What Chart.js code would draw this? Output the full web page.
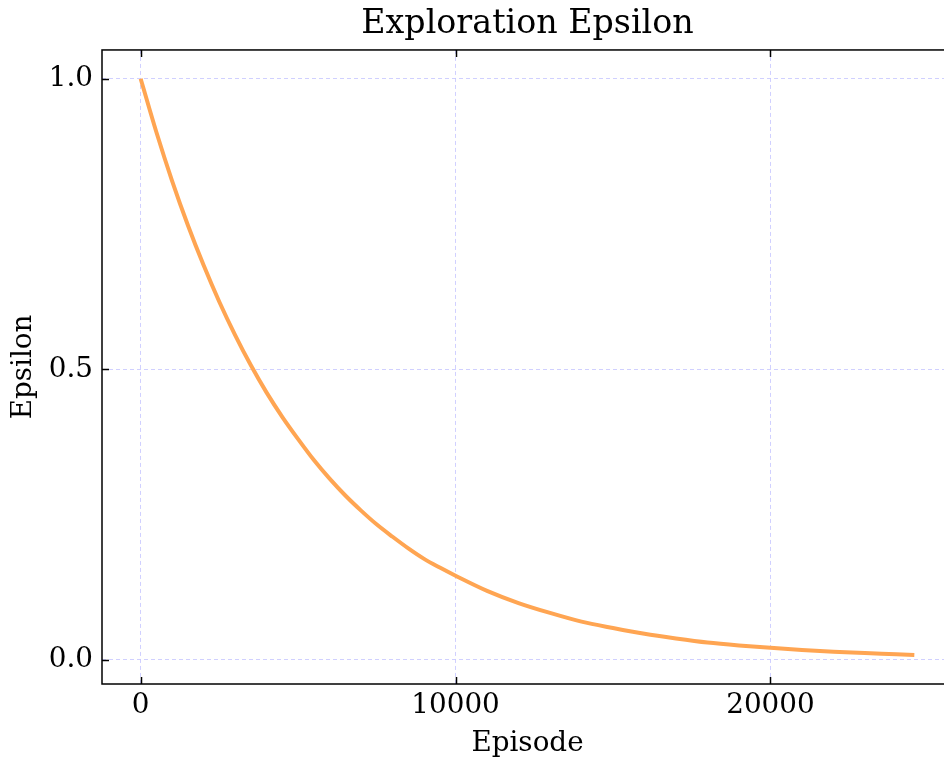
<!DOCTYPE html>
<html>
<head>
<meta charset="utf-8">
<script src="https://cdn.jsdelivr.net/npm/chart.js@4/dist/chart.umd.min.js"></script>
<style>
  html, body { margin: 0; padding: 0; background: #fff; overflow: hidden; }
  #wrap { width: 944px; height: 758px; overflow: hidden; position: relative; }
  #box { width: 953px; height: 758px; position: absolute; left: 0; top: 0; }
</style>
</head>
<body>
<div id="wrap"><div id="box"><canvas id="c"></canvas></div></div>
<script>
// ---- data ----
const episodes = [0, 500, 1000, 1500, 2000, 2500, 3000, 3500, 4000, 4500, 5000,
  5500, 6000, 6500, 7000, 7500, 8000, 8500, 9000, 9500, 10000,
  11000, 12000, 13000, 14000, 15000, 16000, 17000, 18000, 19000, 20000,
  21000, 22000, 23000, 24000, 24570];
const epsilon = [1.000, 0.908, 0.824, 0.748, 0.679, 0.616, 0.559, 0.507, 0.460, 0.418, 0.380,
  0.344, 0.312, 0.283, 0.257, 0.233, 0.212, 0.192, 0.174, 0.159, 0.145,
  0.119, 0.098, 0.081, 0.066, 0.055, 0.045, 0.037, 0.030, 0.025, 0.021,
  0.017, 0.014, 0.012, 0.0097, 0.0085];
const xTickValues = [0, 10000, 20000];
const yTickValues = [0.0, 0.5, 1.0];
const chartTitle = 'Exploration Epsilon';
const xLabel = 'Episode';
const yLabel = 'Epsilon';

const FONT = "'DejaVu Serif', 'Liberation Serif', serif";
const GRID = 'rgba(200,200,255,0.85)';

const points = episodes.map((e, i) => ({ x: e, y: epsilon[i] }));

const frameTicks = {
  id: 'frameTicks',
  afterDraw(chart) {
    const { ctx, chartArea: a, scales } = chart;
    ctx.save();
    ctx.strokeStyle = '#000';
    ctx.lineWidth = 1.5;
    ctx.setLineDash([]);
    ctx.strokeRect(a.left, a.top, a.right - a.left, a.bottom - a.top);
    const L = 7;
    ctx.beginPath();
    xTickValues.forEach(v => {
      const px = Math.round(scales.x.getPixelForValue(v)) + 0.5;
      ctx.moveTo(px, a.bottom); ctx.lineTo(px, a.bottom - L);
      ctx.moveTo(px, a.top); ctx.lineTo(px, a.top + L);
    });
    yTickValues.forEach(v => {
      const py = Math.round(scales.y.getPixelForValue(v)) + 0.5;
      ctx.moveTo(a.left, py); ctx.lineTo(a.left + L, py);
      ctx.moveTo(a.right, py); ctx.lineTo(a.right - L, py);
    });
    ctx.stroke();
    ctx.restore();
  }
};

new Chart(document.getElementById('c'), {
  type: 'line',
  data: {
    datasets: [{
      data: points,
      borderColor: '#FFA552',
      backgroundColor: '#FFA552',
      borderWidth: 4,
      pointRadius: 0,
      fill: false,
      cubicInterpolationMode: 'monotone'
    }]
  },
  options: {
    responsive: true,
    maintainAspectRatio: false,
    animation: false,
    events: [],
    layout: { padding: { left: 0, right: 0, top: 0, bottom: 0 } },
    plugins: {
      legend: { display: false },
      tooltip: { enabled: false },
      title: {
        display: true,
        fullSize: false,
        text: chartTitle,
        color: '#000',
        font: { family: FONT, size: 33.3, weight: 'normal' },
        padding: { top: 4, bottom: 6 }
      }
    },
    scales: {
      x: {
        type: 'linear',
        min: -1228,
        max: 25798,
        afterBuildTicks(s) { s.ticks = xTickValues.map(v => ({ value: v })); },
        afterFit(s) { s.height = 74; },
        ticks: {
          color: '#000',
          font: { family: FONT, size: 27.8 },
          padding: 5,
          maxRotation: 0,
          callback: v => String(v)
        },
        grid: { color: GRID, lineWidth: 1, drawTicks: false },
        border: { display: false, dash: [4, 3] },
        title: {
          display: true, text: xLabel, color: '#000',
          font: { family: FONT, size: 27.8 },
          padding: { top: 0, bottom: -2 }
        }
      },
      y: {
        type: 'linear',
        min: -0.0413,
        max: 1.0496,
        afterBuildTicks(s) { s.ticks = yTickValues.map(v => ({ value: v })); },
        afterFit(s) { s.width = 102; },
        ticks: {
          color: '#000',
          font: { family: FONT, size: 27.8 },
          padding: 9,
          callback: v => Number(v).toFixed(1)
        },
        grid: { color: GRID, lineWidth: 1, drawTicks: false },
        border: { display: false, dash: [4, 3] },
        title: {
          display: true, text: yLabel, color: '#000',
          font: { family: FONT, size: 27.8 },
          padding: { top: 7, bottom: 0 }
        }
      }
    }
  },
  plugins: [frameTicks]
});
</script>
</body>
</html>
